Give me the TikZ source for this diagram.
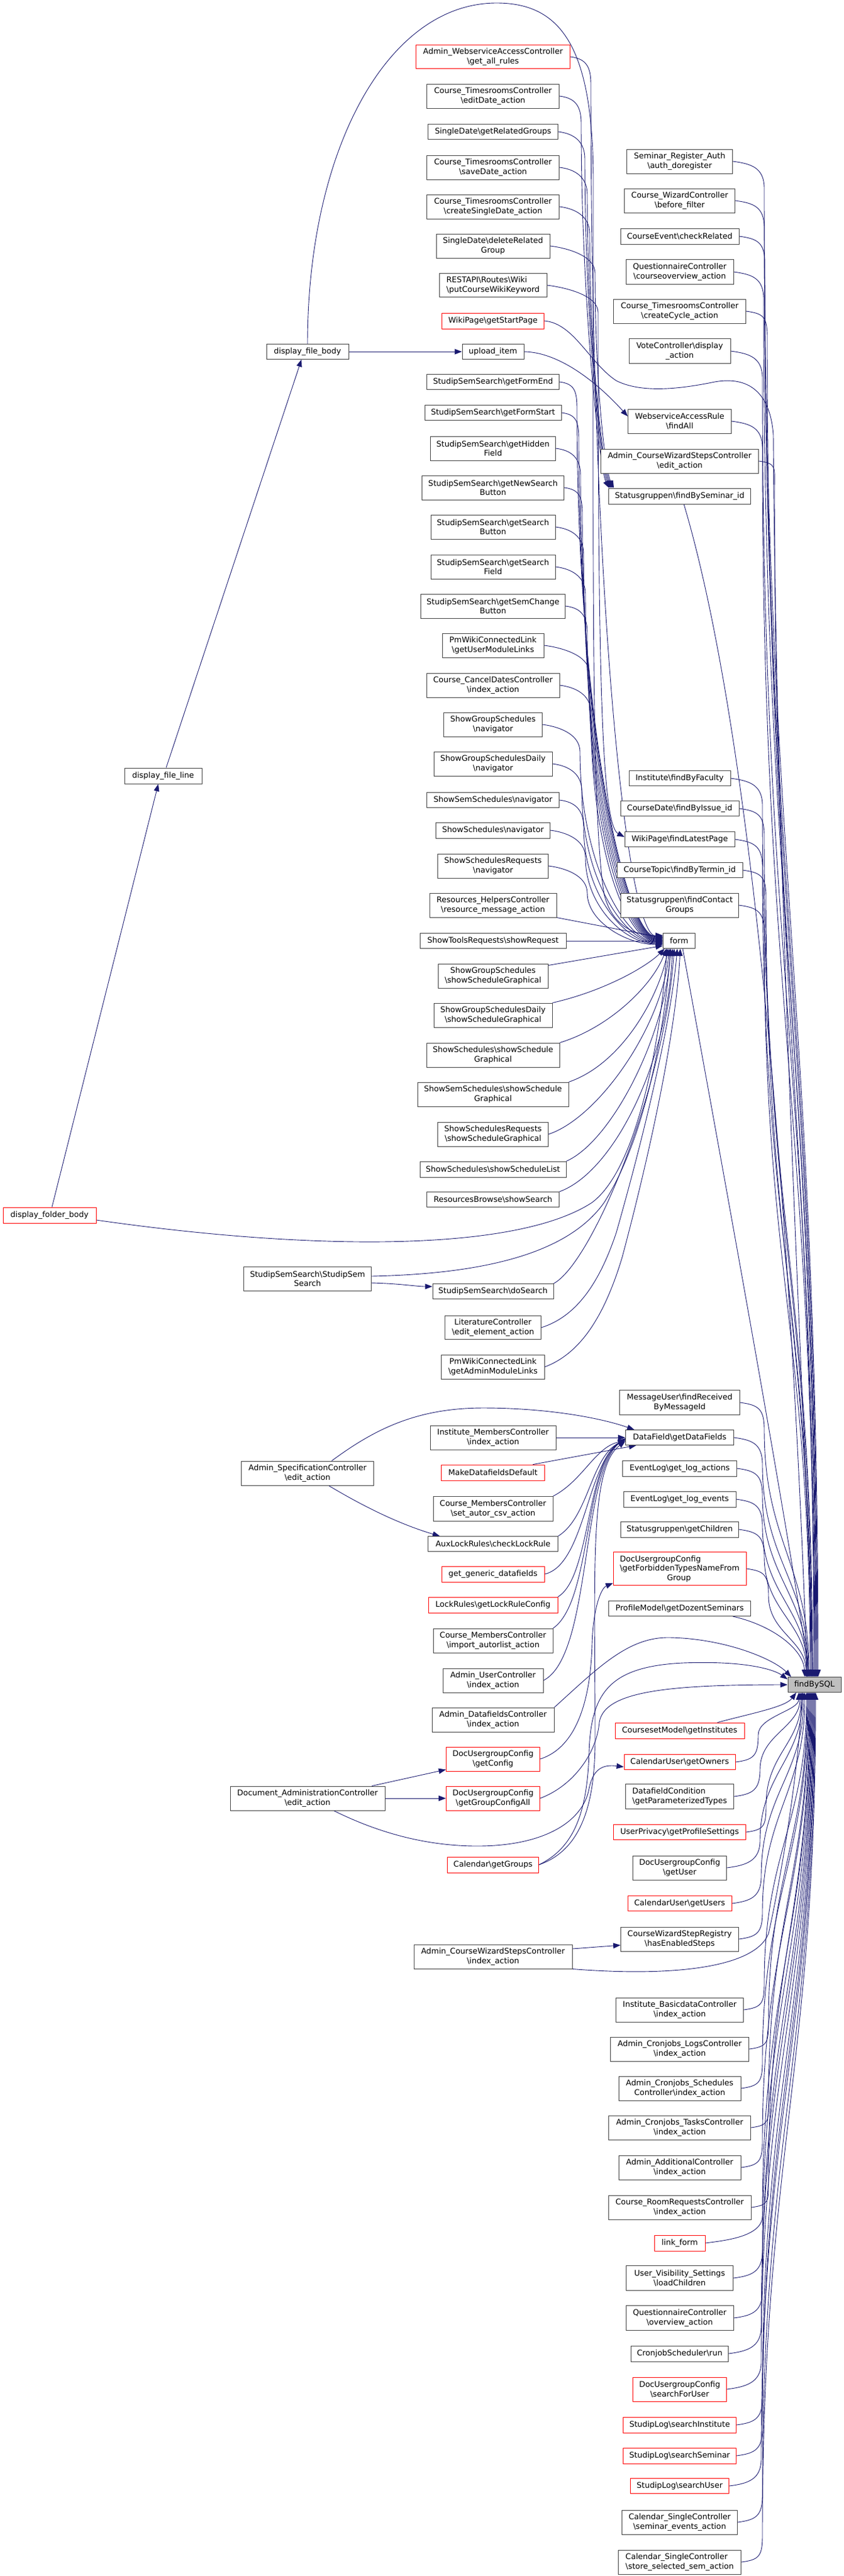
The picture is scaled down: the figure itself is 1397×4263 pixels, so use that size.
\documentclass[tikz,border=0pt]{standalone}
\usepackage{fontspec}
\setmainfont{DejaVu Sans}
\usetikzlibrary{arrows.meta}
\pgfdeclarelayer{bg}
\pgfsetlayers{bg,main}
\definecolor{edgec}{HTML}{191970}
\definecolor{boxc}{HTML}{404040}
\definecolor{fillg}{HTML}{BFBFBF}
\tikzset{
 nb/.style={draw=boxc, fill=white, line width=0.9bp, inner sep=0pt, align=center, font=\fontsize{13bp}{15.4bp}\selectfont},
 nbl/.style={nb, align=left},
 rb/.style={nb, draw=red},
 rbl/.style={rb, align=left},
 fb/.style={nb, fill=fillg},
 e/.style={draw=edgec, line width=0.9bp, -{Triangle[length=12bp,width=9bp]}},
}
\newcommand\BSL{\textbackslash}
\newcommand\mkN[7]{\node[#1, minimum width=#5bp, minimum height=#6bp] (#2) at (#3,#4) {#7};}
\newcommand\edUp[5]{\draw[e] (#1.east) .. controls +(30,4) and +(0,-35) .. (#2,#3) .. controls +(0,#4) and +(0,-#4) .. ([xshift=#5bp]f.north);}
\newcommand\edDn[5]{\draw[e] (#1.east) .. controls +(30,-4) and +(0,35) .. (#2,#3) .. controls +(0,-#4) and +(0,#4) .. ([xshift=#5bp]f.south);}
\newcommand\edFm[5]{\draw[e] (#1.east) .. controls +(25,3) and +(0,-30) .. (#2,#3) .. controls +(0,#4) and +(-60,0) .. ([yshift=#5bp]fm.west);}
\newcommand\edSg[5]{\draw[e] (#1.east) .. controls +(25,3) and +(0,-30) .. (#2,#3) .. controls +(0,#4) and +(-15,-30) .. ([xshift=#5bp]r9.north west);}
\begin{document}
\begin{tikzpicture}[x=1bp,y=-1bp]
\useasboundingbox (0,0) rectangle (1397,4263);
% middle column
\mkN{rb}{m1}{816}{94}{255}{39}{Admin\_WebserviceAccessController\\\BSL get\_all\_rules}
\mkN{nb}{m2}{816}{159}{219}{40}{Course\_TimesroomsController\\\BSL editDate\_action}
\mkN{nb}{m3}{816}{218}{215}{25}{SingleDate\BSL getRelatedGroups}
\mkN{nb}{m4}{816}{277}{219}{40}{Course\_TimesroomsController\\\BSL saveDate\_action}
\mkN{nb}{m5}{816}{342}{219}{40}{Course\_TimesroomsController\\\BSL createSingleDate\_action}
\mkN{nb}{m6}{816}{407}{188}{40}{SingleDate\BSL deleteRelated\\Group}
\mkN{nbl}{m7}{816}{472}{178}{39}{RESTAPI\BSL Routes\BSL Wiki\\\BSL putCourseWikiKeyword}
\mkN{rb}{m8}{816}{531}{169}{26}{WikiPage\BSL getStartPage}
\mkN{nb}{m9}{816}{582}{102}{25}{upload\_item}
\mkN{nb}{m10}{816}{632}{219}{25}{StudipSemSearch\BSL getFormEnd}
\mkN{nb}{m11}{816}{683}{226}{25}{StudipSemSearch\BSL getFormStart}
\mkN{nb}{m12}{816}{742}{207}{40}{StudipSemSearch\BSL getHidden\\Field}
\mkN{nb}{m13}{816}{807}{235}{40}{StudipSemSearch\BSL getNewSearch\\Button}
\mkN{nb}{m14}{816}{872}{206}{40}{StudipSemSearch\BSL getSearch\\Button}
\mkN{nb}{m15}{816}{938}{206}{40}{StudipSemSearch\BSL getSearch\\Field}
\mkN{nb}{m16}{816}{1003}{239}{40}{StudipSemSearch\BSL getSemChange\\Button}
\mkN{nb}{m17}{816}{1068}{168}{40}{PmWikiConnectedLink\\\BSL getUserModuleLinks}
\mkN{nb}{m18}{816}{1134}{220}{40}{Course\_CancelDatesController\\\BSL index\_action}
\mkN{nb}{m19}{816}{1199}{163}{40}{ShowGroupSchedules\\\BSL navigator}
\mkN{nb}{m20}{816}{1264}{196}{40}{ShowGroupSchedulesDaily\\\BSL navigator}
\mkN{nb}{m21}{816}{1324}{219}{25}{ShowSemSchedules\BSL navigator}
\mkN{nb}{m22}{816}{1374}{189}{26}{ShowSchedules\BSL navigator}
\mkN{nb}{m23}{816}{1433}{183}{40}{ShowSchedulesRequests\\\BSL navigator}
\mkN{nb}{m24}{816}{1498}{210}{40}{Resources\_HelpersController\\\BSL resource\_message\_action}
\mkN{nb}{m25}{816}{1557}{242}{25}{ShowToolsRequests\BSL showRequest}
\mkN{nb}{m26}{816}{1615}{182}{40}{ShowGroupSchedules\\\BSL showScheduleGraphical}
\mkN{nb}{m27}{816}{1680}{196}{40}{ShowGroupSchedulesDaily\\\BSL showScheduleGraphical}
\mkN{nb}{m28}{816}{1746}{220}{40}{ShowSchedules\BSL showSchedule\\Graphical}
\mkN{nb}{m29}{816}{1811}{250}{40}{ShowSemSchedules\BSL showSchedule\\Graphical}
\mkN{nb}{m30}{816}{1877}{183}{40}{ShowSchedulesRequests\\\BSL showScheduleGraphical}
\mkN{nb}{m31}{816}{1935}{242}{26}{ShowSchedules\BSL showScheduleList}
\mkN{nb}{m32}{816}{1985}{219}{25}{ResourcesBrowse\BSL showSearch}
\mkN{nb}{m33}{816}{2137}{200}{25}{StudipSemSearch\BSL doSearch}
\mkN{nb}{m34}{816}{2197}{159}{39}{LiteratureController\\\BSL edit\_element\_action}
\mkN{nb}{m35}{816}{2262}{171}{40}{PmWikiConnectedLink\\\BSL getAdminModuleLinks}
\mkN{nb}{m36}{816}{2379}{208}{40}{Institute\_MembersController\\\BSL index\_action}
\mkN{rb}{m37}{816}{2437}{171}{26}{MakeDatafieldsDefault}
\mkN{nb}{m38}{816}{2497}{198}{41}{Course\_MembersController\\\BSL set\_autor\_csv\_action}
\mkN{nb}{m39}{816}{2555}{215}{25}{AuxLockRules\BSL checkLockRule}
\mkN{rb}{m40}{816}{2605}{170}{26}{get\_generic\_datafields}
\mkN{rb}{m41}{816}{2656}{214}{26}{LockRules\BSL getLockRuleConfig}
\mkN{nb}{m42}{816}{2715}{198}{40}{Course\_MembersController\\\BSL import\_autorlist\_action}
\mkN{nb}{m43}{816}{2781}{166}{40}{Admin\_UserController\\\BSL index\_action}
\mkN{nb}{m44}{816}{2846}{202}{40}{Admin\_DatafieldsController\\\BSL index\_action}
\mkN{rb}{m45}{816}{2911}{155}{40}{DocUsergroupConfig\\\BSL getConfig}
\mkN{rb}{m46}{816}{2976}{155}{40}{DocUsergroupConfig\\\BSL getGroupConfigAll}
\mkN{rb}{m47}{816}{3086}{151}{26}{Calendar\BSL getGroups}
\mkN{nb}{m48}{816}{3238}{262}{40}{Admin\_CourseWizardStepsController\\\BSL index\_action}
% right column
\mkN{nb}{r1}{1125}{267}{175}{40}{Seminar\_Register\_Auth\\\BSL auth\_doregister}
\mkN{nb}{r2}{1125}{332}{183}{40}{Course\_WizardController\\\BSL before\_filter}
\mkN{nb}{r3}{1125}{391}{196}{26}{CourseEvent\BSL checkRelated}
\mkN{nb}{r4}{1125}{450}{178}{41}{QuestionnaireController\\\BSL courseoverview\_action}
\mkN{nb}{r5}{1125}{515}{219}{40}{Course\_TimesroomsController\\\BSL createCycle\_action}
\mkN{nb}{r6}{1125}{581}{168}{41}{VoteController\BSL display\\\_action}
\mkN{nb}{r7}{1125}{697}{171}{40}{WebserviceAccessRule\\\BSL findAll}
\mkN{nb}{r8}{1125}{763}{261}{40}{Admin\_CourseWizardStepsController\\\BSL edit\_action}
\mkN{nb}{r9}{1125}{821}{235}{26}{Statusgruppen\BSL findBySeminar\_id}
\mkN{nb}{r10}{1125}{1288}{168}{25}{Institute\BSL findByFaculty}
\mkN{nb}{r11}{1125}{1338}{196}{25}{CourseDate\BSL findByIssue\_id}
\mkN{nb}{r12}{1125}{1389}{182}{25}{WikiPage\BSL findLatestPage}
\mkN{nb}{r13}{1125}{1440}{208}{25}{CourseTopic\BSL findByTermin\_id}
\mkN{nb}{r14}{1125}{1498}{195}{40}{Statusgruppen\BSL findContact\\Groups}
\mkN{nb}{fm}{1124}{1557}{53}{25}{form}
\mkN{nb}{r16}{1125}{2321}{199}{41}{MessageUser\BSL findReceived\\ByMessageId}
\mkN{nb}{r17}{1125}{2379}{179}{25}{DataField\BSL getDataFields}
\mkN{nb}{r18}{1125}{2430}{189}{26}{EventLog\BSL get\_log\_actions}
\mkN{nb}{r19}{1125}{2481}{186}{26}{EventLog\BSL get\_log\_events}
\mkN{nb}{r20}{1125}{2531}{195}{26}{Statusgruppen\BSL getChildren}
\mkN{rbl}{r21}{1125}{2596}{220}{55}{DocUsergroupConfig\\\BSL getForbiddenTypesNameFrom\\\hspace*{78bp}Group}
\mkN{nb}{r22}{1125}{2662}{235}{25}{ProfileModel\BSL getDozentSeminars}
\mkN{fb}{f}{1348}{2788}{88}{25}{findBySQL}
\mkN{rb}{r23}{1125}{2864}{214}{26}{CoursesetModel\BSL getInstitutes}
\mkN{rb}{r24}{1125}{2916}{184}{25}{CalendarUser\BSL getOwners}
\mkN{nbl}{r25}{1125}{2973}{179}{41}{DatafieldCondition\\\BSL getParameterizedTypes}
\mkN{rb}{r26}{1125}{3032}{219}{25}{UserPrivacy\BSL getProfileSettings}
\mkN{nb}{r27}{1125}{3091}{155}{40}{DocUsergroupConfig\\\BSL getUser}
\mkN{rb}{r28}{1125}{3150}{172}{25}{CalendarUser\BSL getUsers}
\mkN{nb}{r29}{1125}{3209}{195}{40}{CourseWizardStepRegistry\\\BSL hasEnabledSteps}
\mkN{nb}{r30}{1125}{3326}{211}{40}{Institute\_BasicdataController\\\BSL index\_action}
\mkN{nb}{r31}{1125}{3391}{229}{40}{Admin\_Cronjobs\_LogsController\\\BSL index\_action}
\mkN{nb}{r32}{1125}{3456}{202}{40}{Admin\_Cronjobs\_Schedules\\Controller\BSL index\_action}
\mkN{nb}{r33}{1125}{3521}{235}{40}{Admin\_Cronjobs\_TasksController\\\BSL index\_action}
\mkN{nb}{r34}{1125}{3587}{202}{40}{Admin\_AdditionalController\\\BSL index\_action}
\mkN{nb}{r35}{1125}{3653}{236}{40}{Course\_RoomRequestsController\\\BSL index\_action}
\mkN{rb}{r36}{1125}{3712}{84}{26}{link\_form}
\mkN{nb}{r37}{1125}{3770}{177}{41}{User\_Visibility\_Settings\\\BSL loadChildren}
\mkN{nb}{r38}{1125}{3836}{178}{41}{QuestionnaireController\\\BSL overview\_action}
\mkN{nb}{r39}{1125}{3895}{161}{26}{CronjobScheduler\BSL run}
\mkN{rb}{r40}{1125}{3954}{155}{40}{DocUsergroupConfig\\\BSL searchForUser}
\mkN{rb}{r41}{1125}{4013}{187}{26}{StudipLog\BSL searchInstitute}
\mkN{rb}{r42}{1125}{4064}{187}{26}{StudipLog\BSL searchSeminar}
\mkN{rb}{r43}{1125}{4114}{163}{25}{StudipLog\BSL searchUser}
\mkN{nb}{r44}{1125}{4174}{191}{40}{Calendar\_SingleController\\\BSL seminar\_events\_action}
\mkN{nbl}{r45}{1125}{4240}{203}{40}{Calendar\_SingleController\\\BSL store\_selected\_sem\_action}
% left nodes
\mkN{nb}{l1}{509}{582}{136}{25}{display\_file\_body}
\mkN{nb}{l2}{270}{1284}{128}{26}{display\_file\_line}
\mkN{rb}{l3}{82}{2011}{154}{26}{display\_folder\_body}
\mkN{nb}{l4}{509}{2116}{211}{40}{StudipSemSearch\BSL StudipSem\\Search}
\mkN{nb}{l5}{509}{2438}{219}{40}{Admin\_SpecificationController\\\BSL edit\_action}
\mkN{nb}{l6}{509}{2976}{256}{40}{Document\_AdministrationController\\\BSL edit\_action}

\begin{pgfonlayer}{bg}
% left chain
\draw[e] (l1.east) -- (m9.west);
\draw[e] ([xshift=5bp]l2.north) -- ([xshift=-10bp]l1.south);
\draw[e] ([xshift=4bp]l3.north) -- ([xshift=-8bp]l2.south);
\draw[e] (l1.north) .. controls (509,250) and (640,5) .. (822,5) .. controls (930,5) and (982,80) .. (982,300) .. controls (982,900) and (978,1350) .. (1000,1480) .. controls (1015,1540) and (1060,1548) .. ([yshift=9bp]fm.west);
% to Statusgruppen findBySeminar_id
\edSg{m2}{962}{204}{302}{1}
\edSg{m3}{968}{263}{272}{3}
\edSg{m4}{972}{322}{243}{5}
\edSg{m5}{976}{387}{210}{7}
\edSg{m6}{985}{452}{178}{9}
% misc middle
\draw[e] (m7.east) .. controls +(25,3) and +(0,-30) .. (990,517) .. controls (990,1100) and (995,1365) .. ([yshift=4bp]r12.west);
\draw[e] (m8.east) .. controls (950,535) and (975,600) .. (1020,630) .. controls (1060,650) and (1120,645) .. (1183,632) .. controls (1240,622) and (1275,650) .. (1280,720) .. controls (1285,1500) and (1335,2400) .. ([xshift=-2bp]f.north);
\draw[e] (m9.east) .. controls (930,583) and (995,640) .. ([yshift=8bp]r7.west);
% to form from above
\edFm{m1}{978}{139}{851}{8}
\edFm{m10}{955}{677}{528}{7}
\edFm{m11}{958}{728}{497}{6}
\edFm{m12}{961}{787}{462}{5}
\edFm{m13}{964}{852}{423}{4}
\edFm{m14}{966}{917}{384}{3}
\edFm{m15}{969}{983}{344}{2}
\edFm{m16}{972}{1048}{305}{1}
\edFm{m17}{975}{1113}{266}{0}
\edFm{m18}{978}{1179}{227}{-1}
\edFm{m19}{960}{1244}{188}{-2}
\edFm{m20}{963}{1309}{149}{-3}
\edFm{m21}{966}{1369}{113}{-4}
\edFm{m22}{969}{1419}{83}{-5}
\edFm{m23}{972}{1478}{47}{-6}
% to form from below
\draw[e] (m24.south east) -- ([yshift=5bp]fm.west);
\draw[e] (m25.east) -- (fm.west);
\draw[e] ([yshift=-3bp]m26.north east) -- ([yshift=-8bp]fm.west);
\draw[e] (m27.north east) .. controls (1000,1640) and (1070,1600) .. ([xshift=3bp]fm.south west);
\draw[e] (m28.north east) .. controls (1010,1700) and (1080,1630) .. ([xshift=6bp]fm.south west);
\draw[e] (m29.north east) .. controls (1030,1760) and (1090,1650) .. ([xshift=9bp]fm.south west);
\draw[e] (m30.east) .. controls (990,1850) and (1095,1700) .. ([xshift=11bp]fm.south west);
\draw[e] (m31.north east) .. controls (1010,1890) and (1100,1720) .. ([xshift=13bp]fm.south west);
\draw[e] (m32.north east) .. controls (1015,1940) and (1105,1760) .. ([xshift=16bp]fm.south west);
\draw[e] ([yshift=-8bp]l3.east) .. controls (500,2068) and (850,2075) .. (980,1990) .. controls (1060,1930) and (1095,1700) .. ([xshift=-20bp]fm.south);
\draw[e] ([yshift=4bp]l4.east) .. controls (800,2108) and (940,2075) .. (1000,1990) .. controls (1070,1880) and (1100,1700) .. ([xshift=-14bp]fm.south);
\draw[e] ([yshift=-7bp]l4.east) .. controls (660,2124) and (690,2129) .. ([yshift=8bp]m33.west);
\draw[e] (m33.north east) .. controls (980,2090) and (1100,1800) .. ([xshift=-8bp]fm.south);
\draw[e] (m34.east) .. controls (950,2180) and (990,2130) .. (1020,2040) .. controls (1060,1900) and (1110,1700) .. ([xshift=-3bp]fm.south);
\draw[e] (m35.east) .. controls (960,2240) and (1000,2180) .. (1030,2080) .. controls (1070,1930) and (1118,1720) .. ([xshift=2bp]fm.south);
% to DataField
\draw[e] ([xshift=-70bp]l5.north east) .. controls (620,2365) and (690,2330) .. (800,2330) .. controls (900,2330) and (990,2345) .. ([xshift=15bp]r17.north west);
\draw[e] (m36.east) -- (r17.west);
\draw[e] ([xshift=-20bp]m37.north east) -- ([xshift=18bp]r17.south west);
\draw[e] (m38.north east) .. controls (965,2450) and (985,2395) .. ([yshift=-5bp]r17.west);
\draw[e] (m39.north east) .. controls (975,2510) and (978,2410) .. ([yshift=-4bp]r17.west);
\draw[e] (m40.east) .. controls (968,2590) and (972,2420) .. ([yshift=-3bp]r17.west);
\draw[e] (m41.north east) .. controls (978,2610) and (970,2420) .. ([yshift=-2bp]r17.west);
\draw[e] (m42.north east) .. controls (980,2650) and (965,2430) .. ([yshift=-2bp]r17.west);
\draw[e] (m43.east) .. controls (980,2740) and (960,2440) .. ([yshift=-1bp]r17.west);
\draw[e] (m47.east) .. controls (955,3064) and (985,3000) .. (985,2880) .. controls (985,2600) and (975,2430) .. ([yshift=-6bp]r17.west);
\draw[e] ([xshift=-75bp]l5.south east) .. controls (600,2492) and (660,2522) .. ([xshift=20bp]m39.north west);
% DocUsergroupConfig etc.
\draw[e] (m45.east) .. controls (960,2890) and (978,2800) .. (980,2720) .. controls (982,2660) and (995,2628) .. ([yshift=4bp]r21.south west);
\draw[e] ([xshift=-22bp]l6.north east) -- ([yshift=3bp]m45.south west);
\draw[e] (l6.east) -- (m46.west);
\draw[e] ([xshift=-85bp]l6.south east) .. controls (620,3030) and (700,3055) .. (790,3055) .. controls (900,3055) and (965,3015) .. (975,2960) .. controls (982,2925) and (1000,2920) .. ([yshift=5bp]r24.south west);
\draw[e] ([yshift=13bp]m48.east) -- ([yshift=-10bp]r29.west);
% into findBySQL from the left
\draw[e] (m44.north east) .. controls (990,2760) and (1040,2708) .. (1110,2710) .. controls (1200,2712) and (1280,2745) .. ([xshift=6bp]f.north west);
\draw[e] (m47.east) .. controls (950,3058) and (972,3000) .. (975,2900) .. controls (978,2800) and (1010,2758) .. (1130,2752) .. controls (1230,2748) and (1280,2762) .. ([yshift=-4bp]f.north west);
\draw[e] (m46.east) .. controls (950,2955) and (988,2900) .. (992,2850) .. controls (1000,2800) and (1100,2788) .. (f.west);
\draw[e] (m48.south east) .. controls (1120,3272) and (1250,3255) .. (1272,3200) .. controls (1290,3120) and (1320,2950) .. ([xshift=-20bp]f.south);
\draw[e] ([xshift=6bp]fm.south) .. controls (1190,1900) and (1300,2500) .. ([xshift=-8bp]f.north);
\draw[e] ([xshift=7bp]r9.south) .. controls (1270,1300) and (1320,2300) .. ([xshift=-12bp]f.north);
% right column above findBySQL
\edUp{r1}{1265}{312}{1109}{6}
\edUp{r2}{1265}{377}{1080}{5}
\edUp{r3}{1266}{436}{1053}{4}
\edUp{r4}{1264}{495}{1026}{3}
\edUp{r5}{1270}{560}{997}{2}
\edUp{r6}{1262}{626}{968}{1}
\edUp{r7}{1262}{742}{915}{0}
\edUp{r8}{1282}{808}{886}{-1}
\edUp{r10}{1262}{1333}{649}{-3}
\edUp{r11}{1265}{1383}{627}{-4}
\edUp{r12}{1262}{1434}{604}{-5}
\edUp{r13}{1268}{1485}{581}{-6}
\edUp{r14}{1265}{1543}{555}{-7}
\edUp{r16}{1265}{2366}{185}{-9}
\edUp{r17}{1262}{2424}{158}{-10}
\edUp{r18}{1262}{2475}{135}{-11}
\edUp{r19}{1262}{2526}{112}{-12}
\edUp{r20}{1265}{2576}{90}{-13}
\edUp{r21}{1272}{2641}{60}{-14}
\draw[e] ([xshift=-30bp]r22.south east) .. controls (1280,2690) and (1330,2730) .. ([xshift=-16bp]f.north);
% right column below findBySQL
\draw[e] ([xshift=-45bp]r23.north east) .. controls (1245,2835) and (1300,2825) .. ([xshift=-30bp]f.south);
\edDn{r24}{1255}{2871}{30}{-26}
\edDn{r25}{1258}{2928}{57}{-24}
\edDn{r26}{1268}{2987}{84}{-22}
\edDn{r27}{1258}{3046}{110}{-20}
\edDn{r28}{1260}{3105}{137}{-18}
\edDn{r29}{1262}{3164}{163}{-16}
\edDn{r30}{1265}{3281}{216}{-13}
\edDn{r31}{1272}{3346}{245}{-12}
\edDn{r32}{1262}{3411}{275}{-11}
\edDn{r33}{1272}{3476}{304}{-10}
\edDn{r34}{1262}{3542}{333}{-9}
\edDn{r35}{1272}{3608}{363}{-8}
\edDn{r36}{1262}{3667}{390}{-7}
\edDn{r37}{1262}{3725}{416}{-6}
\edDn{r38}{1262}{3791}{445}{-5}
\edDn{r39}{1260}{3850}{472}{-4}
\edDn{r40}{1260}{3909}{499}{-3}
\edDn{r41}{1262}{3968}{525}{-2}
\edDn{r42}{1262}{4019}{548}{-1}
\edDn{r43}{1260}{4069}{571}{0}
\edDn{r44}{1262}{4129}{598}{1}
\edDn{r45}{1262}{4195}{627}{2}
\end{pgfonlayer}
\end{tikzpicture}
\end{document}
